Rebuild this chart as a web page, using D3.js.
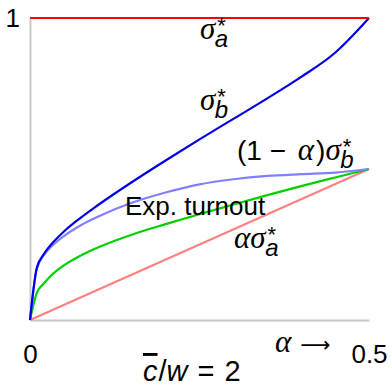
<!DOCTYPE html>
<html>
<head>
<meta charset="utf-8">
<script src="https://cdn.jsdelivr.net/npm/d3@7"></script>
<style>
  body { margin: 0; background: #fff; }
  svg { display: block; }
  .sans { font-family: "Liberation Sans", Arial, sans-serif; }
  .greek { font-family: "Liberation Serif", "DejaVu Serif", serif; font-style: italic; }
  .arrow { font-family: "DejaVu Sans", sans-serif; }
</style>
</head>
<body>
<svg id="chart" width="392" height="387"></svg>
<script>
// values
const alpha = [0, 0.01, 0.02, 0.03, 0.05, 0.075, 0.1, 0.15, 0.2, 0.25, 0.3, 0.35, 0.4, 0.45, 0.5];
const sigmaB = [0, 0.172, 0.217, 0.247, 0.293, 0.339, 0.38, 0.456, 0.528, 0.598, 0.666, 0.734, 0.805, 0.885, 1.0];
const oneMinusAlphaSigmaB = [0, 0.17, 0.213, 0.24, 0.278, 0.314, 0.342, 0.388, 0.422, 0.449, 0.466, 0.477, 0.483, 0.488, 0.5];
const expTurnout = [0, 0.09, 0.12, 0.145, 0.181, 0.2135, 0.24, 0.2825, 0.3175, 0.3505, 0.3825, 0.4135, 0.4435, 0.472, 0.5];
const alphaEnds = [0, 0.5];
const sigmaA = [1, 1];
const alphaSigmaA = [0, 0.5];
const xTicks = [0, 0.5];
const yTicks = [1];

const svg = d3.select("#chart");

const x = d3.scaleLinear().domain([0, 0.5]).range([30, 369]);
const y = d3.scaleLinear().domain([0, 1]).range([320, 18]);

// axes
const xAxis = svg.append("g")
  .attr("transform", "translate(0," + y(0) + ")")
  .call(d3.axisBottom(x).tickValues(xTicks).tickSize(0).tickPadding(25)
    .tickFormat(d => d === 0 ? "0" : "0.5"));
const yAxis = svg.append("g")
  .attr("transform", "translate(" + x(0) + ",0)")
  .call(d3.axisLeft(y).tickValues(yTicks).tickSize(0).tickPadding(10)
    .tickFormat(d3.format("d")));

[xAxis, yAxis].forEach(a => {
  a.select(".domain").attr("stroke", "#c8c8c8").attr("stroke-width", 2);
  a.selectAll("text")
    .attr("class", "sans")
    .style("font-size", "26px")
    .attr("fill", "#000");
});

// series
const series = [
  { name: "alphaSigmaA", xs: alphaEnds, ys: alphaSigmaA, color: "#ff8080" },
  { name: "expTurnout", xs: alpha, ys: expTurnout, color: "#00d000" },
  { name: "oneMinusAlphaSigmaB", xs: alpha, ys: oneMinusAlphaSigmaB, color: "#8080ff" },
  { name: "sigmaB", xs: alpha, ys: sigmaB, color: "#0000e6" },
  { name: "sigmaA", xs: alphaEnds, ys: sigmaA, color: "#ff0000" }
];

const line = d3.line()
  .x(d => x(d[0]))
  .y(d => y(d[1]))
  .curve(d3.curveMonotoneX);

svg.append("g").selectAll("path")
  .data(series)
  .enter()
  .append("path")
  .attr("d", s => line(s.xs.map((v, i) => [v, s.ys[i]])))
  .attr("fill", "none")
  .attr("stroke", s => s.color)
  .attr("stroke-width", 2.2);

// labels built out of tspans
function mathLabel(px, py, parts, anchor) {
  const t = svg.append("text")
    .attr("x", px).attr("y", py)
    .attr("text-anchor", anchor || "start")
    .attr("fill", "#000");
  parts.forEach(p => {
    t.append("tspan")
      .attr("class", p.cls)
      .attr("dx", p.dx || 0)
      .attr("dy", p.dy || 0)
      .style("font-size", p.size + "px")
      .style("font-style", p.italic ? "italic" : null)
      .style("text-decoration", p.over ? "overline" : null)
      .text(p.t);
  });
  return t;
}

// sigma with star above and letter below
function starred(sub) {
  return [
    { t: "σ", cls: "greek", size: 31 },
    { t: "*", cls: "sans", size: 22, dx: 2, dy: -6 },
    { t: sub, cls: "sans", size: 24, italic: true, dx: -11, dy: 14 }
  ];
}

mathLabel(200, 39, starred("a"));
mathLabel(200, 110, starred("b"));

mathLabel(237, 160, [
  { t: "(1 − ", cls: "sans", size: 28 },
  { t: "α", cls: "greek", size: 31, dx: 4 },
  { t: ")", cls: "sans", size: 28, dx: 2 }
].concat(starred("b")));

mathLabel(125, 215, [{ t: "Exp. turnout", cls: "sans", size: 26 }]);

mathLabel(234, 248, [
  { t: "α", cls: "greek", size: 31 }
].concat(starred("a")));

mathLabel(275, 352, [
  { t: "α", cls: "greek", size: 31 },
  { t: "⟶", cls: "arrow", size: 21, dx: 9 }
]);

mathLabel(143, 381, [
  { t: "c", cls: "sans", size: 29, italic: true, over: true },
  { t: "/", cls: "sans", size: 29, dx: 1 },
  { t: "w", cls: "sans", size: 29, italic: true },
  { t: "=", cls: "sans", size: 29, dx: 10 },
  { t: "2", cls: "sans", size: 29, dx: 10 }
]);
</script>
</body>
</html>
